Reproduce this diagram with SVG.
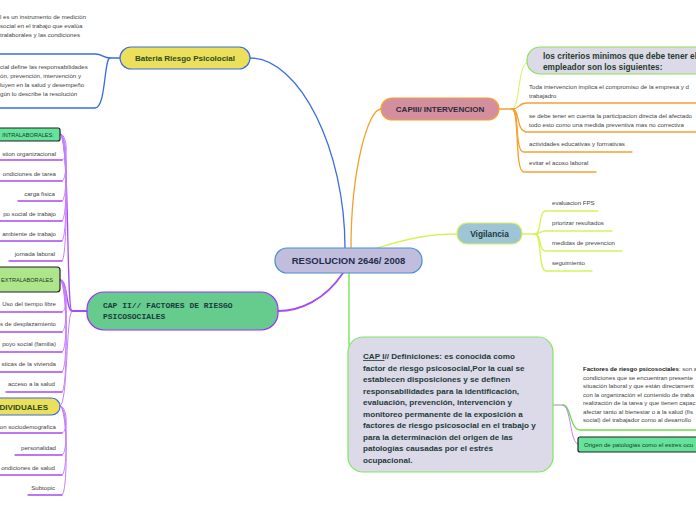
<svg xmlns="http://www.w3.org/2000/svg" width="696" height="520" viewBox="0 0 696 520">
<style>
.t{font-family:"Liberation Sans",Arial,sans-serif;font-size:6.1px;fill:#444}
.b{font-family:"Liberation Sans",Arial,sans-serif;font-weight:bold;fill:#1e3a3a}
.c{fill:none;stroke-linecap:round}
.pu{stroke:#a64bf4;stroke-width:1.3}
.pl{stroke:#c77dff;stroke-width:1}
.bl{stroke:#3b6de0;stroke-width:1.3}
.or{stroke:#f5a030;stroke-width:1.3}
.yg{stroke:#d4f35a;stroke-width:1.3}
.gr{stroke:#6ee04a;stroke-width:1.3}
</style>
<rect width="696" height="520" fill="#fff"/>
<g id="connectors">
<path class="c bl" d="M345,248 C345,150 300,58 250,58"/>
<path class="c or" d="M351,248 C351,170 368,109 381,109"/>
<path class="c yg" d="M377,248 C410,238 430,234 457,234"/>
<path class="c gr" d="M349,273 V345"/>
<path class="c pu" style="stroke-width:1.8" d="M343,273 C325,300 300,311 278,311"/>
<path class="c bl" d="M120,58 H110 C103,58 103,54 95,54 H0"/>
<path class="c bl" d="M110,58 C104,58 106,108 95,108 H0"/>
<path class="c pu" style="stroke-width:2" d="M87,311 H72"/>
<path class="c pu" d="M72,311 C66,311 70,134 60,134"/>
<path class="c pu" d="M72,311 C66,311 68,280 60,280"/>
<path class="c pl" d="M72,311 C66,311 68,406 60,406"/>
<g class="c pl">
<path d="M60,134 C68,134 68,160 62,160"/>
<path d="M60,134 C68,134 68,181 62,181"/>
<path d="M60,134 C68,134 68,201 62,201"/>
<path d="M60,134 C68,134 68,221 62,221"/>
<path d="M60,134 C68,134 68,241 62,241"/>
<path d="M60,134 C68,134 68,261 62,261"/>
<path d="M60,280 C68,280 68,312 62,312"/>
<path d="M60,280 C68,280 68,332 62,332"/>
<path d="M60,280 C68,280 68,352 62,352"/>
<path d="M60,280 C68,280 68,372 62,372"/>
<path d="M60,280 C68,280 68,392 62,392"/>
<path d="M60,406 C68,406 68,433 62,433"/>
<path d="M60,406 C68,406 68,455 62,455"/>
<path d="M60,406 C68,406 68,475 62,475"/>
<path d="M60,406 C68,406 68,495 62,495"/>
</g>
<g class="c pu">
<path d="M0,160 H62"/><path d="M0,181 H62"/><path d="M18,201 H62"/><path d="M0,221 H62"/><path d="M0,241 H62"/><path d="M9,261 H62"/>
<path d="M0,312 H62"/><path d="M0,332 H62"/><path d="M0,352 H62"/><path d="M0,372 H62"/><path d="M6,392 H62"/>
<path d="M0,433 H62"/><path d="M15,455 H62"/><path d="M0,475 H62"/><path d="M28,495 H62"/>
</g>
<path class="c or" d="M499,109 H512"/>
<path class="c yg" style="stroke-width:1" d="M512,109 C520,109 518,63 527,63"/>
<path class="c or" d="M512,109 C520,109 518,103 527,103 H696"/>
<path class="c or" d="M512,109 C520,109 516,132 527,132 H696"/>
<path class="c or" d="M512,109 C520,109 514,152 524,152 H632"/>
<path class="c or" d="M512,109 C520,109 514,172 524,172 H596"/>
<path class="c yg" d="M522,234 H535"/>
<path class="c yg" d="M535,234 C542,234 538,211 546,211 H598"/>
<path class="c yg" d="M535,234 C542,234 538,231 546,231 H612"/>
<path class="c yg" d="M535,234 C542,234 538,251 546,251 H622"/>
<path class="c yg" d="M535,234 C542,234 538,271 546,271 H592"/>
<path class="c" stroke="#999" stroke-width="1" d="M553,405 H563"/>
<path class="c gr" d="M563,405 C571,405 570,430 580,430 H696"/>
<path class="c pl" d="M563,405 C571,405 570,444 578,444"/>
</g>

<g id="central">
<rect x="275" y="248" width="147" height="25" rx="12" fill="#c1bedd" stroke="#4a90d0" stroke-width="1.2"/>
<text class="b" x="348.5" y="264" font-size="9.5" text-anchor="middle" style="fill:#1f2d4d">RESOLUCION 2646/ 2008</text>
</g>

<g id="bateria">
<rect x="120" y="47" width="130" height="22" rx="11" fill="#ece05a" stroke="#3b6de0" stroke-width="1.2"/>
<text class="b" x="185" y="61" font-size="8" text-anchor="middle" style="fill:#2a4a2a">Bateria Riesgo Psicolocial</text>
</g>
<g id="bateria-item1">
<text class="t" x="0" y="19">l es un instrumento de medición</text>
<text class="t" x="0" y="28">social en el trabajo que evalúa</text>
<text class="t" x="0" y="37">tralaborales y las condiciones</text>
</g>
<g id="bateria-item2">
<text class="t" x="0" y="69">cial define las responsabilidades</text>
<text class="t" x="0" y="78">ón, prevención, intervención y</text>
<text class="t" x="0" y="87">luyen en la salud y desempeño</text>
<text class="t" x="0" y="96">gún lo describe la resolución</text>
</g>

<g id="cap2">
<rect x="87" y="292" width="191" height="38" rx="17" fill="#66cc8e" stroke="#9b30ff" stroke-width="1.2"/>
<text x="103" y="308" font-family="Liberation Mono, monospace" font-weight="bold" font-size="8" fill="#1a3a3a">CAP II// FACTORES DE RIESGO</text>
<text x="103" y="319" font-family="Liberation Mono, monospace" font-weight="bold" font-size="8" fill="#1a3a3a">PSICOSOCIALES</text>
</g>

<g id="intralaborales">
<rect x="-6" y="128" width="66" height="13" rx="2" fill="#66e39a" stroke="#222" stroke-width="1.2"/>
<text class="t" x="28" y="136.5" text-anchor="middle" style="font-size:5.6px;fill:#1a3a2a">INTRALABORALES:</text>
</g>
<g id="intra-items">
<text class="t" x="56" y="156" text-anchor="end">stion organizacional</text>
<text class="t" x="56" y="176" text-anchor="end">ondiciones de tarea</text>
<text class="t" x="55" y="196" text-anchor="end">carga fisica</text>
<text class="t" x="56" y="216" text-anchor="end">po social de trabajo</text>
<text class="t" x="56" y="236" text-anchor="end">ambiente de trabajo</text>
<text class="t" x="55" y="256" text-anchor="end">jornada laboral</text>
</g>

<g id="extralaborales">
<rect x="-6" y="267" width="66" height="25" rx="3" fill="#aee48a" stroke="#222" stroke-width="1.2"/>
<text class="t" x="27" y="282" text-anchor="middle" style="font-size:5.6px;fill:#1a3a2a">EXTRALABORALES</text>
</g>
<g id="extra-items">
<text class="t" x="56" y="306" text-anchor="end">Uso del tiempo libre</text>
<text class="t" x="56" y="326" text-anchor="end">s de desplazamiento</text>
<text class="t" x="56" y="346" text-anchor="end">poyo social (familia)</text>
<text class="t" x="56" y="366" text-anchor="end">sticas de la vivienda</text>
<text class="t" x="55" y="386" text-anchor="end">acceso a la salud</text>
</g>

<g id="individuales">
<rect x="-20" y="398" width="80" height="17" rx="8.5" fill="#ece05a" stroke="#3b6de0" stroke-width="1.2"/>
<text class="b" x="48" y="410" font-size="8" text-anchor="end" style="fill:#2a4a2a">DIVIDUALES</text>
</g>
<g id="indiv-items">
<text class="t" x="56" y="429" text-anchor="end">on sociodemografica</text>
<text class="t" x="56" y="450" text-anchor="end">personalidad</text>
<text class="t" x="55" y="470" text-anchor="end">ondiciones de salud</text>
<text class="t" x="55" y="490" text-anchor="end">Subtopic</text>
</g>

<g id="cap3">
<rect x="381" y="98" width="118" height="22" rx="11" fill="#d38f9d" stroke="#f5a030" stroke-width="1.2"/>
<text class="b" x="440" y="112" font-size="8" text-anchor="middle" style="fill:#2a2a3a">CAPIII/ INTERVENCION</text>
</g>
<g id="criterios">
<rect x="527" y="47" width="200" height="27" rx="13" fill="#dcdae8" stroke="#90e050" stroke-width="1.2"/>
<text class="b" x="543" y="59" font-size="8.3" style="fill:#1e3d2a">los criterios minimos que debe tener el</text>
<text class="b" x="543" y="70" font-size="8.3" style="fill:#1e3d2a">empleador son los siguientes:</text>
</g>
<g id="cap3-items">
<text class="t" x="529" y="89">Toda intervencion  implica el compromiso de la empresa y d</text>
<text class="t" x="529" y="98">trabajadro</text>
<text class="t" x="529" y="118">se debe tener en cuenta la participacion directa del afectado</text>
<text class="t" x="529" y="127">todo esto como una medida preventiva mas no correctiva</text>
<text class="t" x="529" y="146">actividades educativas y formativas</text>
<text class="t" x="529" y="165">evitar el acoso laboral</text>
</g>

<g id="vigilancia">
<rect x="457" y="223" width="65" height="21" rx="10" fill="#9ec5d6" stroke="#d4f35a" stroke-width="1.2"/>
<text class="b" x="489.5" y="237" font-size="8.3" text-anchor="middle" style="fill:#1e3a3a">Vigilancia</text>
</g>
<g id="vig-items">
<text class="t" x="552" y="205">evaluacion FPS</text>
<text class="t" x="552" y="225">priorizar resultados</text>
<text class="t" x="552" y="245">medidas de prevencion</text>
<text class="t" x="552" y="265">seguimiento</text>
</g>

<g id="cap1">
<rect x="348" y="337" width="205" height="135" rx="15" fill="#dcdae8" stroke="#7ee860" stroke-width="1.2"/>
<g class="b" font-size="8.1" style="fill:#1e3a3a">
<text x="363" y="359"><tspan text-decoration="underline">CAP I</tspan>// Definiciones: es conocida como</text>
<text x="363" y="370.5">factor de riesgo psicosocial,Por la cual se</text>
<text x="363" y="382">establecen disposiciones y se definen</text>
<text x="363" y="393.5">responsabilidades para la identificación,</text>
<text x="363" y="405">evaluación, prevención, intervención y</text>
<text x="363" y="416.5">monitoreo permanente de la exposición a</text>
<text x="363" y="428">factores de riesgo psicosocial en el trabajo y</text>
<text x="363" y="439.5">para la determinación del origen de las</text>
<text x="363" y="451">patologías causadas por el estrés</text>
<text x="363" y="462.5">ocupacional.</text>
</g>
</g>
<g id="factores">
<text class="t" x="583" y="371"><tspan font-weight="bold" fill="#222">Factores de riesgo psicosociales</tspan>: son a</text>
<text class="t" x="583" y="379.5">condiciones que se encuentran presente</text>
<text class="t" x="583" y="388">situación laboral y que están directament</text>
<text class="t" x="583" y="396.5">con la organización el contenido de traba</text>
<text class="t" x="583" y="405">realización de la tarea y que tienen capac</text>
<text class="t" x="583" y="413.5">afectar tanto al bienestar o a la salud (fís</text>
<text class="t" x="583" y="422">social) del trabajador como al desarrollo</text>
</g>
<g id="origen">
<rect x="578" y="437" width="130" height="15" rx="2" fill="#66e39a" stroke="#222" stroke-width="1.2"/>
<text class="t" x="584" y="447" style="fill:#1a3a2a">Origen de patologias como el estres  ocu</text>
</g>
</svg>
